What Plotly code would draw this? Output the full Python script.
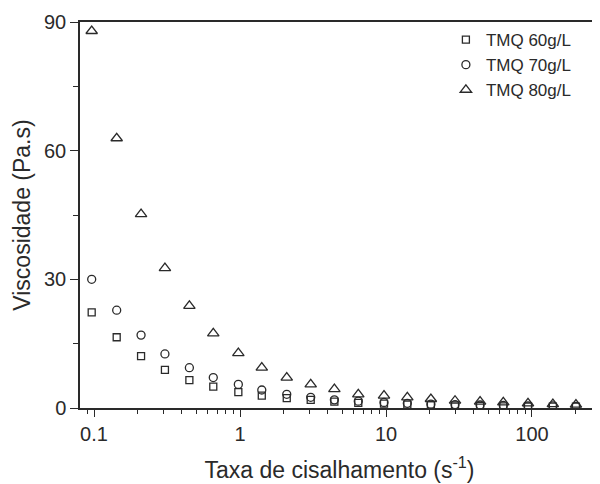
import plotly.graph_objects as go

shear_rate = [0.0964, 0.143, 0.210, 0.306, 0.450, 0.656, 0.974, 1.41, 2.09, 3.05,
              4.43, 6.46, 9.69, 14.0, 20.3, 29.7, 44.1, 63.6, 93.9, 139, 200]
visc_60 = [22.3, 16.5, 12.1, 8.9, 6.5, 5.0, 3.7, 2.9, 2.3, 1.9,
           1.5, 1.2, 1.0, 0.8, 0.7, 0.6, 0.5, 0.4, 0.35, 0.3, 0.3]
visc_70 = [30.0, 22.8, 17.0, 12.6, 9.4, 7.1, 5.5, 4.2, 3.2, 2.5,
           1.9, 1.6, 1.3, 1.1, 0.9, 0.8, 0.7, 0.6, 0.5, 0.5, 0.4]
visc_80 = [87.9, 62.9, 45.2, 32.6, 23.8, 17.4, 12.8, 9.4, 7.1, 5.5,
           4.4, 3.2, 2.9, 2.5, 2.1, 1.7, 1.5, 1.3, 1.1, 0.9, 0.8]
series_names = ["TMQ 60g/L", "TMQ 70g/L", "TMQ 80g/L"]
x_tick_vals = [0.1, 1, 10, 100]
x_tick_text = ["0.1", "1", "10", "100"]
x_minor_vals = [0.09, 0.2, 0.3, 0.4, 0.5, 0.6, 0.7, 0.8, 0.9,
                2, 3, 4, 5, 6, 7, 8, 9,
                20, 30, 40, 50, 60, 70, 80, 90,
                200]
y_tick_vals = [0, 30, 60, 90]

ink = "#2a2a2a"
fig = go.Figure()
for name, vals, sym, size in [
    (series_names[0], visc_60, "square-open", 7),
    (series_names[1], visc_70, "circle-open", 8),
    (series_names[2], visc_80, "triangle-up-open", 10),
]:
    fig.add_trace(go.Scatter(
        x=shear_rate, y=vals, mode="markers", name=name,
        marker=dict(symbol=sym, size=size, color=ink, line=dict(width=1.3, color=ink)),
    ))

# The page body has an 8px default margin, so the figure is sized 592x476
# and shifted margins keep the plot where the reference has it.
font = "Liberation Sans, Arial, sans-serif"
fig.update_layout(
    width=592, height=476,
    margin=dict(l=72, r=1, t=14, b=76),
    paper_bgcolor="white", plot_bgcolor="white",
    font=dict(family=font, color=ink, size=20),
    showlegend=True,
    legend=dict(x=0.705, y=1.0, xanchor="left", yanchor="top",
                bgcolor="rgba(0,0,0,0)", font=dict(size=17, color=ink),
                itemsizing="trace"),
    xaxis=dict(
        type="log", range=[-1.096, 2.459], automargin=False,
        tickvals=x_tick_vals, ticktext=x_tick_text,
        ticks="outside", ticklen=7, tickwidth=1.3, tickcolor=ink,
        showline=True, linecolor=ink, linewidth=1.5, mirror=True,
        showgrid=False, zeroline=False,
        minor=dict(tickvals=x_minor_vals, ticks="outside", ticklen=4,
                   tickcolor=ink, tickwidth=1.2, showgrid=False),
        tickfont=dict(size=20),
        title=dict(text="Taxa de cisalhamento (s<sup>-1</sup>)", font=dict(size=23), standoff=18),
    ),
    yaxis=dict(
        range=[0, 90], tickvals=y_tick_vals, automargin=False,
        ticks="outside", ticklen=8, tickwidth=1.3, tickcolor=ink,
        showline=True, linecolor=ink, linewidth=1.5, mirror=True,
        showgrid=False, zeroline=False,
        minor=dict(dtick=15, ticks="outside", ticklen=5, tickcolor=ink, tickwidth=1.2, showgrid=False),
        tickfont=dict(size=20),
        title=dict(text="Viscosidade (Pa.s)", font=dict(size=23), standoff=7),
    ),
)
fig.write_html("out.html")
